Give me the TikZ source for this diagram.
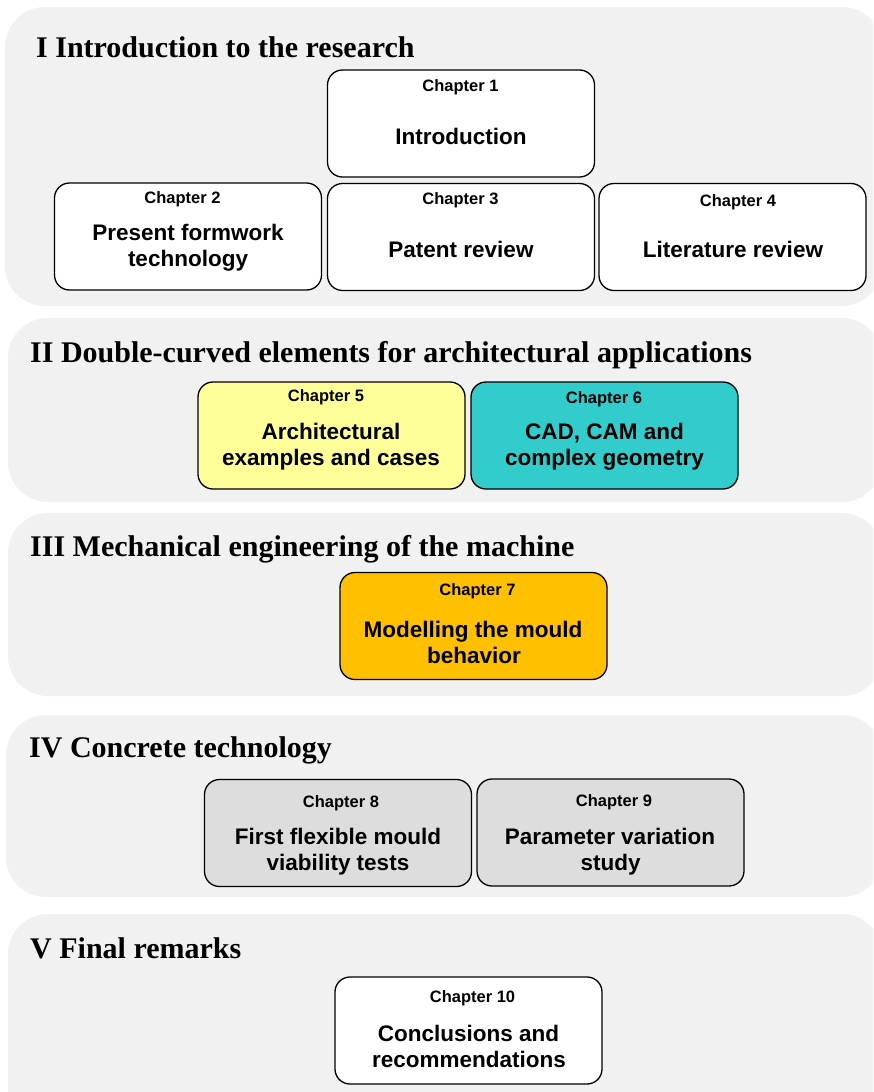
\documentclass[tikz,border=0pt]{standalone}
\usepackage{fontspec}
\setmainfont{Liberation Serif}
\newfontfamily\arialf{Liberation Sans}
\definecolor{panelgray}{HTML}{F1F1F1}
\definecolor{chyellow}{HTML}{FFFF99}
\definecolor{chteal}{HTML}{33CCCC}
\definecolor{chorange}{HTML}{FFC000}
\definecolor{chgray}{HTML}{DDDDDD}
\begin{document}
\begin{tikzpicture}[x=1pt,y=-1pt,
  panel/.style={fill=panelgray, draw=none, rounded corners=40pt},
  chbox/.style={draw=black, line width=1.3pt, rounded corners=15pt, minimum width=267pt, minimum height=107pt, inner sep=0pt},
  chlabel/.style={font=\arialf\bfseries\fontsize{16.5}{20}\selectfont, anchor=base, inner sep=0pt},
  chtext/.style={font=\arialf\bfseries\fontsize{22.5}{26}\selectfont, anchor=base, inner sep=0pt},
  sectitle/.style={font=\bfseries\fontsize{30}{36}\selectfont, anchor=base west, inner sep=0pt}]
\useasboundingbox (0,0) rectangle (873,1092);
\clip (0,0) rectangle (873,1092);
\fill[white] (0,0) rectangle (873,1092);
% panels
\path[panel] (5,7) rectangle (882,306);
\path[panel] (8,318) rectangle (882,502);
\path[panel] (8,513) rectangle (882,696);
\path[panel] (6,715) rectangle (882,897);
\path[panel] (8,914) rectangle (882,1140);
% titles
\node[sectitle] (t1) at (36,57) {I Introduction to the research};
\node[sectitle] (t2) at (30,362) {II Double-curved elements for architectural applications};
\node[sectitle] (t3) at (30,556) {III Mechanical engineering of the machine};
\node[sectitle] (t4) at (29,757) {IV Concrete technology};
\node[sectitle] (t5) at (30,958) {V Final remarks};
% section I
\node[chbox, fill=white] (ch1) at (461,123.5) {};
\node[chlabel] (ch1l) at (460.5,91) {Chapter 1};
\node[chtext] (ch1a) at (461,144) {Introduction};
\node[chbox, fill=white] (ch2) at (188,236.5) {};
\node[chlabel] (ch2l) at (182.5,203.5) {Chapter 2};
\node[chtext] (ch2a) at (188,240) {Present formwork};
\node[chtext] (ch2b) at (188,266) {technology};
\node[chbox, fill=white] (ch3) at (461,237) {};
\node[chlabel] (ch3l) at (460.5,204.5) {Chapter 3};
\node[chtext] (ch3a) at (461,257) {Patent review};
\node[chbox, fill=white] (ch4) at (732.5,237) {};
\node[chlabel] (ch4l) at (738,206.5) {Chapter 4};
\node[chtext] (ch4a) at (733,257) {Literature review};
% section II
\node[chbox, fill=chyellow] (ch5) at (331.5,435.5) {};
\node[chlabel] (ch5l) at (326,401) {Chapter 5};
\node[chtext] (ch5a) at (331,439) {Architectural};
\node[chtext] (ch5b) at (331,465) {examples and cases};
\node[chbox, fill=chteal] (ch6) at (604.5,435.5) {};
\node[chlabel] (ch6l) at (604,403.5) {Chapter 6};
\node[chtext] (ch6a) at (604.5,439) {CAD, CAM and};
\node[chtext] (ch6b) at (604.5,465) {complex geometry};
% section III
\node[chbox, fill=chorange] (ch7) at (473.5,626) {};
\node[chlabel] (ch7l) at (477.5,595) {Chapter 7};
\node[chtext] (ch7a) at (473,637) {Modelling the mould};
\node[chtext] (ch7b) at (474,663) {behavior};
% section IV
\node[chbox, fill=chgray] (ch8) at (338,833) {};
\node[chlabel] (ch8l) at (341,807) {Chapter 8};
\node[chtext] (ch8a) at (338,844) {First flexible mould};
\node[chtext] (ch8b) at (338,870) {viability tests};
\node[chbox, fill=chgray] (ch9) at (610.5,832.5) {};
\node[chlabel] (ch9l) at (614,806) {Chapter 9};
\node[chtext] (ch9a) at (610,844) {Parameter variation};
\node[chtext] (ch9b) at (610.5,870) {study};
% section V
\node[chbox, fill=white] (ch10) at (468.5,1030.5) {};
\node[chlabel] (ch10l) at (472.5,1002) {Chapter 10};
\node[chtext] (ch10a) at (468.5,1041) {Conclusions and};
\node[chtext] (ch10b) at (469,1067) {recommendations};
\end{tikzpicture}
\end{document}
